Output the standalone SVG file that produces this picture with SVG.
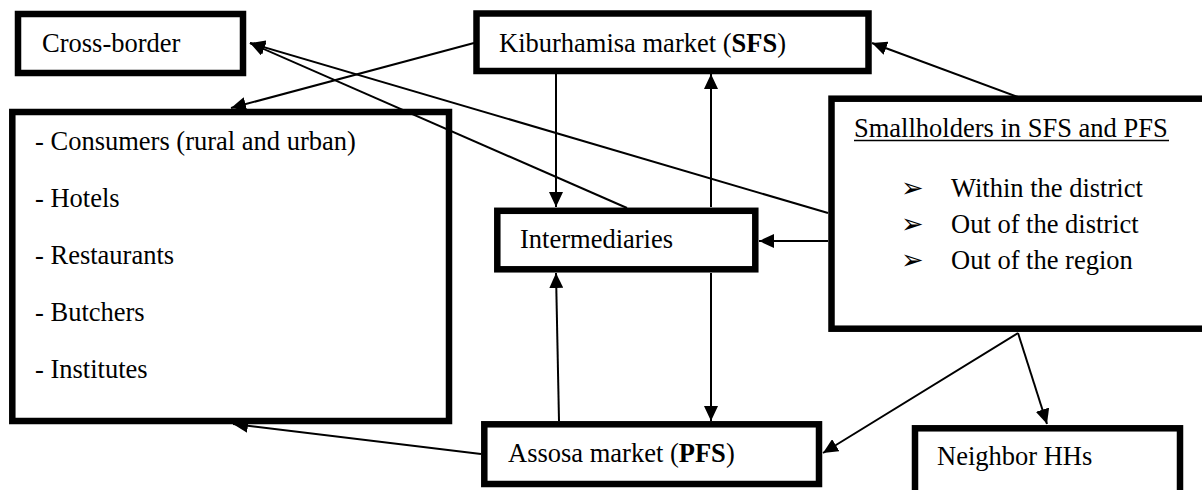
<svg xmlns="http://www.w3.org/2000/svg" width="1202" height="490" viewBox="0 0 1202 490">
<style>
.box{fill:#fff;stroke:#000;stroke-width:6.5}
.t{font-family:"Liberation Serif","Times New Roman",serif;font-size:26.5px;fill:#000}
.b{font-weight:bold}
.c{stroke:#000;stroke-width:2;fill:none;marker-end:url(#ah)}
.blt{font-family:"DejaVu Sans",sans-serif;font-size:27px;fill:#000}
</style>
<defs>
<marker id="ah" markerUnits="userSpaceOnUse" markerWidth="15" markerHeight="14" refX="15" refY="7" orient="auto">
<path d="M0,0 L15,7 L0,14 Z" fill="#000"/>
</marker>
</defs>
<rect width="1202" height="490" fill="#fff"/>
<g id="cross-border">
<rect class="box" x="18" y="14" width="225" height="59"/>
<text class="t" x="42" y="52">Cross-border</text>
</g>
<g id="kiburhamisa">
<rect class="box" x="476.5" y="13.5" width="392" height="57.5"/>
<text class="t" x="499" y="52">Kiburhamisa market (<tspan class="b">SFS</tspan>)</text>
</g>
<g id="consumers">
<rect class="box" x="12.3" y="112" width="436.7" height="309"/>
<text class="t" x="35" y="150">- Consumers (rural and urban)</text>
<text class="t" x="35" y="207">- Hotels</text>
<text class="t" x="35" y="264">- Restaurants</text>
<text class="t" x="35" y="321">- Butchers</text>
<text class="t" x="35" y="378">- Institutes</text>
</g>
<g id="intermediaries">
<rect class="box" x="497.3" y="210.8" width="258" height="58.5"/>
<text class="t" x="520" y="248">Intermediaries</text>
</g>
<g id="smallholders">
<rect class="box" x="831.5" y="98.7" width="375" height="230"/>
<text class="t" x="854" y="136.5">Smallholders in SFS and PFS</text>
<line x1="854" y1="140.5" x2="1169" y2="140.5" stroke="#000" stroke-width="1.3"/>
<text class="blt" x="901" y="197">➢</text>
<text class="t" x="951" y="197">Within the district</text>
<text class="blt" x="901" y="233">➢</text>
<text class="t" x="951" y="233">Out of the district</text>
<text class="blt" x="901" y="269">➢</text>
<text class="t" x="951" y="269">Out of the region</text>
</g>
<g id="assosa">
<rect class="box" x="484.3" y="424.3" width="334.7" height="59.7"/>
<text class="t" x="508" y="462">Assosa market (<tspan class="b">PFS</tspan>)</text>
</g>
<g id="neighbor">
<rect class="box" x="915" y="428.3" width="265" height="80"/>
<text class="t" x="937" y="465">Neighbor HHs</text>
</g>
<g id="connectors">
<line class="c" x1="474" y1="43" x2="231" y2="108"/>
<line class="c" x1="828" y1="213" x2="250" y2="43"/>
<line class="c" x1="627" y1="208" x2="250" y2="43"/>
<line class="c" x1="1018" y1="97" x2="872" y2="43"/>
<line class="c" x1="828" y1="241" x2="759" y2="241"/>
<line class="c" x1="556" y1="74" x2="556" y2="207"/>
<line class="c" x1="711" y1="207" x2="711" y2="74"/>
<line class="c" x1="559" y1="421" x2="556" y2="273"/>
<line class="c" x1="711" y1="273" x2="711" y2="421"/>
<line class="c" x1="481" y1="454" x2="233" y2="424"/>
<line class="c" x1="1018" y1="333" x2="823" y2="453"/>
<line class="c" x1="1018" y1="333" x2="1047" y2="424"/>
</g>
</svg>
